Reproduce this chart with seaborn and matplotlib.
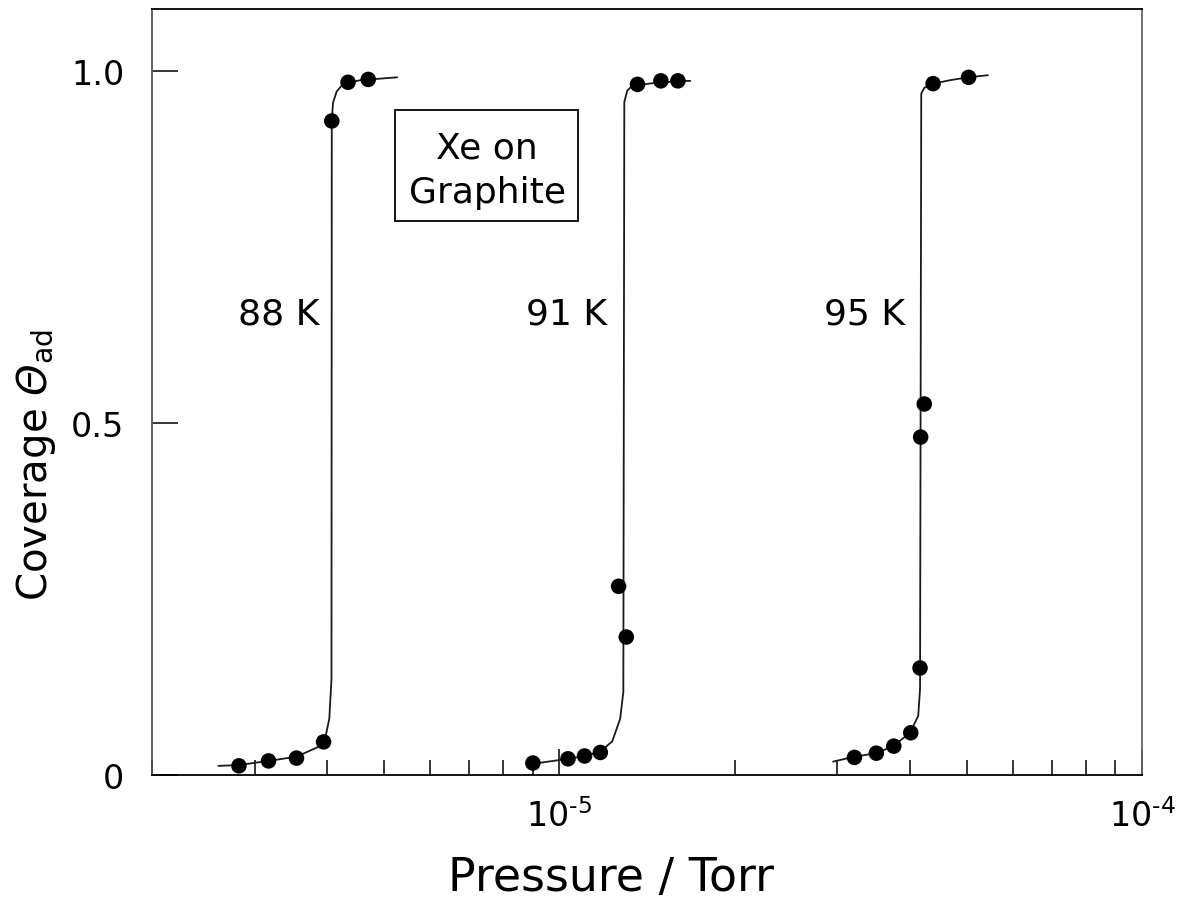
import matplotlib
matplotlib.use("Agg")
import matplotlib.pyplot as plt
import seaborn as sns
import pandas as pd
from matplotlib.patches import Rectangle
from matplotlib.ticker import FixedLocator, NullFormatter

# ---------------- data ----------------
temps = ["88 K", "91 K", "95 K"]

# measured points: pressure (Torr) and coverage
p88 = [2.82e-6, 3.17e-6, 3.54e-6, 3.94e-6, 4.07e-6, 4.34e-6, 4.70e-6]
th88 = [0.013, 0.020, 0.024, 0.047, 0.929, 0.984, 0.988]
p91 = [9.01e-6, 1.035e-5, 1.105e-5, 1.176e-5, 1.264e-5, 1.303e-5, 1.362e-5, 1.494e-5, 1.598e-5]
th91 = [0.017, 0.023, 0.027, 0.032, 0.268, 0.196, 0.981, 0.986, 0.986]
p95 = [3.21e-5, 3.50e-5, 3.75e-5, 4.01e-5, 4.16e-5, 4.17e-5, 4.23e-5, 4.38e-5, 5.04e-5]
th95 = [0.025, 0.031, 0.041, 0.060, 0.152, 0.480, 0.527, 0.982, 0.991]

# drawn isotherm curves (vertices)
c88_p = [2.60e-6, 2.81e-6, 3.17e-6, 3.54e-6, 3.86e-6, 3.97e-6, 4.03e-6, 4.065e-6,
         4.07e-6, 4.09e-6, 4.15e-6, 4.26e-6, 4.56e-6, 5.27e-6]
c88_t = [0.013, 0.014, 0.020, 0.026, 0.040, 0.054, 0.080, 0.136,
         0.930, 0.955, 0.971, 0.982, 0.987, 0.991]
c91_p = [8.78e-6, 9.02e-6, 1.036e-5, 1.104e-5, 1.176e-5, 1.233e-5, 1.272e-5, 1.288e-5,
         1.293e-5, 1.308e-5, 1.334e-5, 1.49e-5, 1.678e-5]
c91_t = [0.014, 0.016, 0.023, 0.027, 0.033, 0.048, 0.080, 0.118,
         0.956, 0.972, 0.979, 0.984, 0.986]
c95_p = [2.95e-5, 3.21e-5, 3.50e-5, 3.74e-5, 4.00e-5, 4.13e-5, 4.16e-5,
         4.18e-5, 4.23e-5, 4.38e-5, 4.69e-5, 5.03e-5, 5.44e-5]
c95_t = [0.019, 0.026, 0.031, 0.041, 0.060, 0.084, 0.122,
         0.968, 0.976, 0.982, 0.987, 0.991, 0.994]

# label anchor pressures for the temperature labels
label_p = [3.30e-6, 1.028e-5, 3.34e-5]
label_theta = 0.641

x_ticks = [1e-5, 1e-4]
x_ticklabels = [r"$10^{\text{-}5}$", r"$10^{\text{-}4}$"]
y_ticks = [0, 0.5, 1.0]
y_ticklabels = ["0", "0.5", "1.0"]

# ---------------- build frames ----------------
pts = pd.concat([
    pd.DataFrame({"P": p, "theta": t, "T": lab})
    for p, t, lab in zip([p88, p91, p95], [th88, th91, th95], temps)
], ignore_index=True)
curves = pd.concat([
    pd.DataFrame({"P": p, "theta": t, "T": lab})
    for p, t, lab in zip([c88_p, c91_p, c95_p], [c88_t, c91_t, c95_t], temps)
], ignore_index=True)

# ---------------- style ----------------
sns.set_style("white")
plt.rcParams['font.family'] = ['DejaVu Sans']
plt.rcParams['mathtext.fontset'] = 'custom'
plt.rcParams['mathtext.rm'] = 'DejaVu Sans'
plt.rcParams['mathtext.it'] = 'DejaVu Sans:italic'
plt.rcParams['mathtext.bf'] = 'DejaVu Sans:italic'   # used for the italic capital Theta
plt.rcParams['text.color'] = 'black'
plt.rcParams['axes.labelcolor'] = 'black'
plt.rcParams['xtick.color'] = 'black'
plt.rcParams['ytick.color'] = 'black'

fig = plt.figure(figsize=(11.8, 9.04), dpi=100)
ax = fig.add_axes([0.1288, 0.1416, 0.8390, 0.8473])
ax.set_xscale("log")

sns.lineplot(data=curves, x="P", y="theta", units="T", estimator=None, sort=False,
             color="#1a1a1a", lw=1.3, ax=ax, legend=False)
sns.scatterplot(data=pts, x="P", y="theta", color="black", s=125, edgecolor="none",
                ax=ax, zorder=3, legend=False)

ax.set_xlim(2e-6, 1e-4)
ax.set_ylim(0, 1.088)

ax.set_xticks(x_ticks)
ax.set_xticklabels(x_ticklabels)
ax.xaxis.set_minor_locator(FixedLocator([k * 10.0 ** e for e in (-6, -5) for k in range(2, 10)]))
ax.xaxis.set_minor_formatter(NullFormatter())
ax.set_yticks(y_ticks)
ax.set_yticklabels(y_ticklabels)

ax.tick_params(axis='x', which='major', direction='in', length=19, width=1.1,
               labelsize=24, pad=17, bottom=True, top=False, color='black', labelcolor='black')
ax.tick_params(axis='x', which='minor', direction='in', length=11, width=1.1,
               bottom=True, top=False, color='black')
ax.tick_params(axis='y', which='major', direction='in', length=19, width=1.1,
               labelsize=24, pad=20, left=True, right=False, color='black', labelcolor='black')

for side, col in zip(["top", "bottom", "left", "right"], ["black", "black", "#555555", "#666666"]):
    ax.spines[side].set_visible(True)
    ax.spines[side].set_color(col)
    ax.spines[side].set_linewidth(1.3)

ax.set_xlabel("Pressure / Torr", fontsize=33, color="black")
ax.xaxis.set_label_coords(0.4636, -0.105)
ax.set_ylabel(r"Coverage $\mathbf{\Theta}_{\mathrm{ad}}$", fontsize=29, color="black")
ax.yaxis.set_label_coords(-0.095, 0.406)

for lab, lp in zip(temps, label_p):
    ax.text(lp, label_theta, lab, fontsize=26, ha="center", va="baseline", color="black")

# legend-like box
ax.add_patch(Rectangle((0.2455, 0.7232), 0.1848, 0.1449, transform=ax.transAxes,
                       fill=False, edgecolor="black", lw=1.3, zorder=4))
ax.text(0.3384, 0.8064, "Xe on", transform=ax.transAxes, fontsize=26,
        ha="center", va="baseline", color="black")
ax.text(0.3384, 0.748, "Graphite", transform=ax.transAxes, fontsize=26,
        ha="center", va="baseline", color="black")

fig.savefig("out.png", dpi=100)
